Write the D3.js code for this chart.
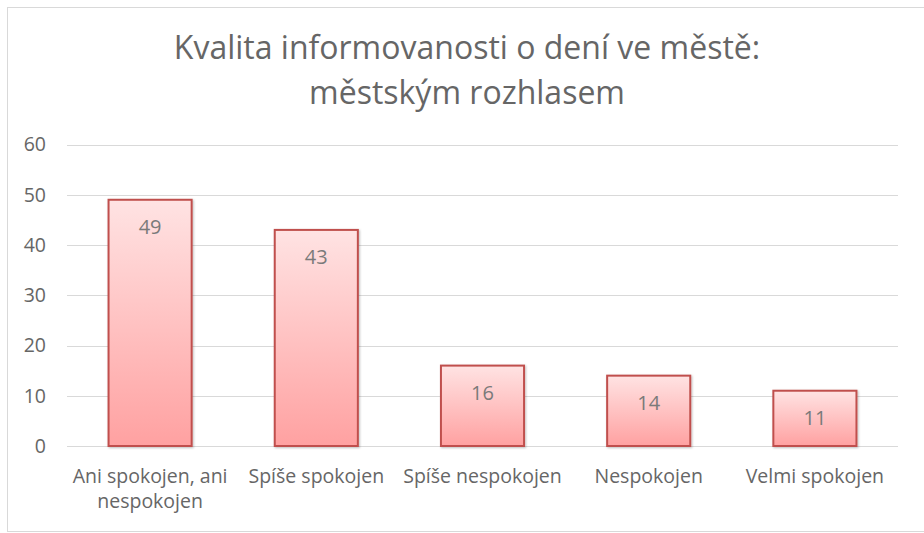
<!DOCTYPE html>
<html>
<head>
<meta charset="utf-8">
<script src="https://cdn.jsdelivr.net/npm/d3@7/dist/d3.min.js"></script>
<style>
  body { margin: 0; background: #fff; }
  svg text { font-family: "Open Sans", sans-serif; }
</style>
</head>
<body>
<svg id="chart" width="924" height="533"></svg>
<script>
'use strict';

const categories = ['Ani spokojen, ani nespokojen', 'Spíše spokojen', 'Spíše nespokojen', 'Nespokojen', 'Velmi spokojen'];
const values = [49, 43, 16, 14, 11];
const yTicks = [0, 10, 20, 30, 40, 50, 60];
const titleLines = ['Kvalita informovanosti o dení ve městě:', 'městským rozhlasem'];

const TEXT = '#666666';
const GRID = '#d9d9d9';

const svg = d3.select('#chart');

// chart frame
svg.append('rect')
    .attr('x', 7.5)
    .attr('y', 7.5)
    .attr('width', 930)
    .attr('height', 524)
    .attr('fill', '#fff')
    .attr('stroke', '#d9d9d9')
    .attr('stroke-width', 1);

const defs = svg.append('defs');
const grad = defs.append('linearGradient')
    .attr('id', 'barGrad')
    .attr('x1', 0).attr('y1', 0)
    .attr('x2', 0).attr('y2', 1);
grad.append('stop').attr('offset', '0%').attr('stop-color', '#ffe3e3');
grad.append('stop').attr('offset', '100%').attr('stop-color', '#ffa1a1');

const shadow = defs.append('filter').attr('id', 'shadow')
    .attr('x', '-10%').attr('y', '-10%').attr('width', '130%').attr('height', '130%');
shadow.append('feDropShadow')
    .attr('dx', 1).attr('dy', 1).attr('stdDeviation', 1)
    .attr('flood-color', '#000').attr('flood-opacity', 0.25);

// title
svg.append('text')
    .attr('text-anchor', 'middle')
    .attr('fill', TEXT)
    .attr('font-size', 32)
    .selectAll('tspan')
    .data(titleLines)
    .enter()
    .append('tspan')
    .attr('x', 467)
    .attr('y', function(d, i) { return 59 + i * 45; })
    .text(function(d) { return d; });

const x = d3.scaleBand()
    .domain(categories)
    .range([67, 898])
    .paddingInner(0.5)
    .paddingOuter(0.25);

const y = d3.scaleLinear()
    .domain([0, 60])
    .range([446, 144.5]);

// gridlines
svg.append('g')
    .selectAll('line')
    .data(yTicks)
    .enter()
    .append('line')
    .attr('x1', 67)
    .attr('x2', 898)
    .attr('y1', function(d) { return Math.round(y(d)) + 0.5; })
    .attr('y2', function(d) { return Math.round(y(d)) + 0.5; })
    .attr('stroke', GRID)
    .attr('stroke-width', 1);

// y axis labels
const yAxis = d3.axisLeft(y).tickValues(yTicks).tickSize(0).tickPadding(0);
const yg = svg.append('g')
    .attr('transform', 'translate(46,0)')
    .call(yAxis);
yg.select('.domain').remove();
yg.selectAll('text')
    .attr('fill', TEXT)
    .attr('font-size', 19.5)
    .attr('font-family', '"Open Sans", sans-serif');

// bars
svg.append('g')
    .selectAll('rect')
    .data(values)
    .enter()
    .append('rect')
    .attr('x', function(d, i) { return x(categories[i]); })
    .attr('y', function(d) { return y(d); })
    .attr('width', x.bandwidth())
    .attr('height', function(d) { return y(0) - y(d); })
    .attr('fill', 'url(#barGrad)')
    .attr('stroke', '#c0504d')
    .attr('stroke-width', 2)
    .attr('filter', 'url(#shadow)');

// data labels
svg.append('g')
    .selectAll('text')
    .data(values)
    .enter()
    .append('text')
    .attr('x', function(d, i) { return x(categories[i]) + x.bandwidth() / 2; })
    .attr('y', function(d) { return y(d) + 34; })
    .attr('text-anchor', 'middle')
    .attr('fill', '#7a7a7a')
    .attr('font-size', 20)
    .text(function(d) { return d; });

// category labels (wrap the long one)
const labelLines = {
    'Ani spokojen, ani nespokojen': ['Ani spokojen, ani', 'nespokojen']
};
const xg = svg.append('g');
categories.forEach(function(c) {
    const lines = labelLines[c] || [c];
    const t = xg.append('text')
        .attr('text-anchor', 'middle')
        .attr('fill', TEXT)
        .attr('font-size', 19.5);
    lines.forEach(function(l, i) {
        t.append('tspan')
            .attr('x', x(c) + x.bandwidth() / 2)
            .attr('y', 483 + i * 25)
            .text(l);
    });
});
</script>
</body>
</html>
